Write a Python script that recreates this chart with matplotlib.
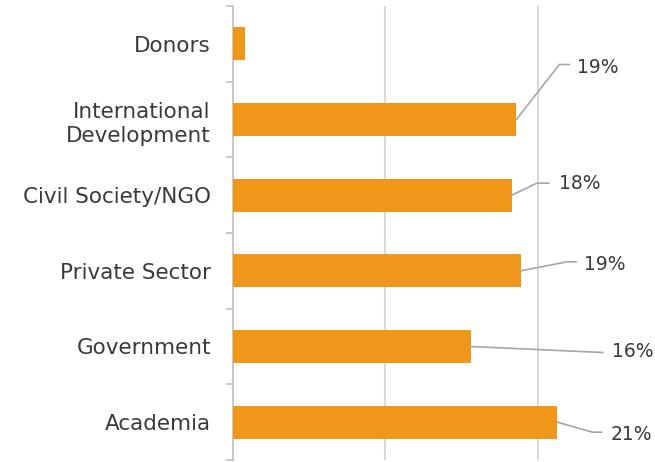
import matplotlib.pyplot as plt
import numpy as np

categories = ['Donors', 'International\nDevelopment', 'Civil Society/NGO',
              'Private Sector', 'Government', 'Academia']
values = [0.8, 18.6, 18.3, 18.9, 15.6, 21.3]
labels = ['', '19%', '18%', '19%', '16%', '21%']

# leader line: elbow offset, end of horizontal part, text offset (pixels from bar end)
leaders = [
    None,
    ((43, 55), (53, 55), (61, 52)),
    ((25, 12), (37, 12), (47, 12)),
    ((46, 9), (55, 9), (63, 6)),
    ((132, -6), (132, -6), (141, -5)),
    ((35, -10), (44, -10), (53, -12)),
]

bar_color = '#F0961B'
text_color = '#3A3A3A'
line_color = '#A6A6A6'

fig = plt.figure(figsize=(6.55, 4.62), dpi=100)
ax = fig.add_axes((233 / 655, 2 / 462, 1 - 233 / 655, 454 / 462))

y = np.arange(len(categories))
ax.barh(y, values, height=0.44, color=bar_color, zorder=3)

ax.set_xlim(0, 27.7)
ax.set_ylim(len(categories) - 0.5, -0.5)

ax.set_xticks([10, 20])
ax.tick_params(axis='x', length=0, labelbottom=False)
ax.grid(axis='x', color='#D9D9D9', linewidth=1.5, zorder=0)

# short ticks between categories, labels in the middle
ax.set_yticks(np.arange(len(categories) + 1) - 0.5)
ax.set_yticklabels([])
ax.tick_params(axis='y', which='major', length=5, color='#BFBFBF', width=1.2)
ax.set_yticks(y, minor=True)
ax.set_yticklabels(categories, minor=True, fontsize=15.5, color=text_color,
                   ha='right', multialignment='right', linespacing=1.3)
ax.tick_params(axis='y', which='minor', length=0, pad=16)

for side in ['top', 'right', 'bottom']:
    ax.spines[side].set_visible(False)
ax.spines['left'].set_color('#BFBFBF')
ax.spines['left'].set_linewidth(1.2)

inv = ax.transData.inverted()
for i, (v, lab, ld) in enumerate(zip(values, labels, leaders)):
    if not lab:
        continue
    elbow, hend, toff = ld
    start = ax.transData.transform((v, i))
    pts = inv.transform([start, start + np.array(elbow), start + np.array(hend)])
    ax.plot(pts[:, 0], pts[:, 1], color=line_color, lw=1.2, clip_on=False,
            solid_joinstyle='miter', zorder=4)
    ax.annotate(lab, xy=(v, i), xytext=toff, textcoords='offset pixels',
                ha='left', va='center', fontsize=13.5, color=text_color,
                annotation_clip=False)

fig.savefig('out.png', dpi=100)
